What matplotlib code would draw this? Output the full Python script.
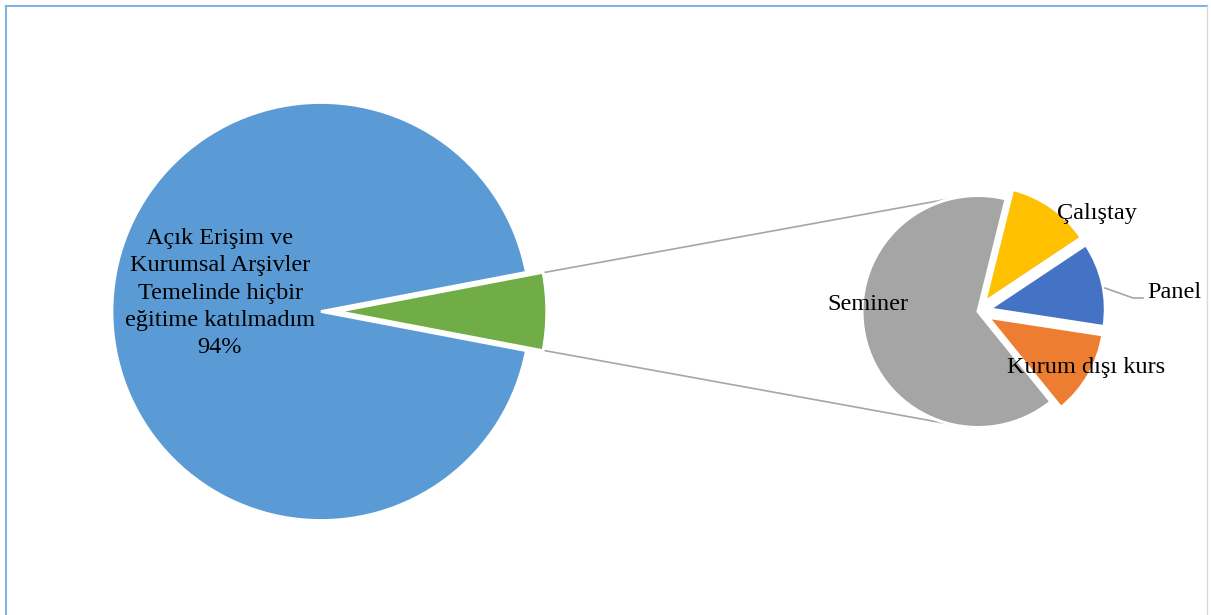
import matplotlib.pyplot as plt
import numpy as np
from matplotlib.lines import Line2D

# main pie
main_labels = ["Diğer", "Açık Erişim ve\nKurumsal Arşivler\nTemelinde hiçbir\neğitime katılmadım\n94%"]
main_values = [6, 94]
main_colors = ["#70AD47", "#5B9BD5"]

# second pie (breakdown of the 6%)
sub_labels = ["Çalıştay", "Panel", "Kurum dışı kurs", "Seminer"]
sub_values = [2, 2, 2, 11]
sub_colors = ["#FFC000", "#4472C4", "#ED7D31", "#A5A5A5"]

W, H = 1211, 615
fig = plt.figure(figsize=(W / 100, H / 100), dpi=100)
ax = fig.add_axes([0, 0, 1, 1])

font = "Liberation Serif"
fs = 17.5

# main pie geometry (pixel units, y up); explode is in data units here
c1 = (321, H - 311.5)
r1 = 209
green_share = main_values[0] / sum(main_values) * 360
wedges1, _ = ax.pie(main_values, colors=main_colors, startangle=-green_share / 2,
                    counterclock=True, center=c1, radius=r1,
                    explode=[0.08 * r1, 0],
                    wedgeprops=dict(edgecolor="white", linewidth=2))

# second pie
c2 = (978, H - 311.5)
r2 = 116
sub_explode = [0.1 * r2, 0.1 * r2, 0.1 * r2, 0]
wedges2, _ = ax.pie(sub_values, colors=sub_colors, startangle=76, counterclock=False,
                    center=c2, radius=r2, explode=sub_explode,
                    wedgeprops=dict(edgecolor="white", linewidth=2.2))

# connector lines from the green wedge to the second pie
gw = wedges1[0]
gx, gy = gw.center
for ang_main, ang_sub in [(gw.theta2, 101), (gw.theta1, -103)]:
    x0 = gx + r1 * np.cos(np.radians(ang_main))
    y0 = gy + r1 * np.sin(np.radians(ang_main))
    x1 = c2[0] + r2 * np.cos(np.radians(ang_sub))
    y1 = c2[1] + r2 * np.sin(np.radians(ang_sub))
    ax.plot([x0 + 2, x1], [y0, y1], color="#A6A6A6", lw=1.2, zorder=0)

# labels
ax.text(220, H - 293, main_labels[1], ha="center", va="center", fontsize=fs,
        family=font, linespacing=1.4)
ax.text(868, H - 304, sub_labels[3], ha="center", va="center", fontsize=fs, family=font)
ax.text(1097, H - 213, sub_labels[0], ha="center", va="center", fontsize=fs, family=font)
ax.text(1086, H - 368, sub_labels[2], ha="center", va="center", fontsize=fs, family=font)
ax.text(1174, H - 293, sub_labels[1], ha="center", va="center", fontsize=fs, family=font)
ax.plot([1105, 1133, 1143], [H - 288, H - 298, H - 298], color="#A6A6A6", lw=1.2)

ax.set_xlim(0, W)
ax.set_ylim(0, H)
ax.set_aspect("equal")
ax.axis("off")

# chart border
fig.add_artist(Line2D([6 / W, 1207 / W], [1 - 6 / H, 1 - 6 / H], color="#7FB2E5", lw=1.5))
fig.add_artist(Line2D([6 / W, 6 / W], [0, 1 - 6 / H], color="#7FB2E5", lw=1.5))
fig.add_artist(Line2D([1207 / W, 1207 / W], [0, 1 - 6 / H], color="#D9D9D9", lw=1))

plt.savefig("out.png", dpi=100)
